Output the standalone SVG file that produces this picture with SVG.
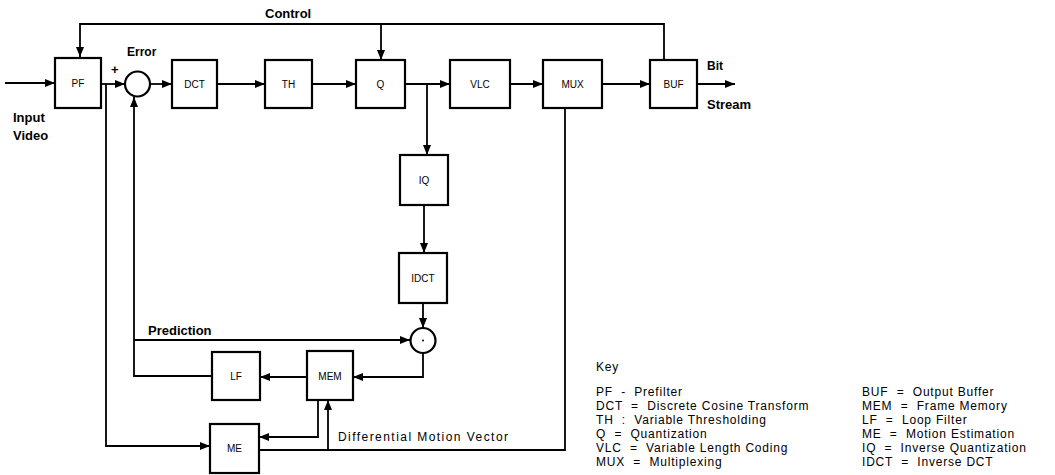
<svg xmlns="http://www.w3.org/2000/svg" width="1055" height="475" viewBox="0 0 1055 475">
<defs>
<style>
.box{fill:#fff;stroke:#000;stroke-width:2.2}
.ln{fill:none;stroke:#000;stroke-width:1.8}
.lbl{font-family:"Liberation Sans",Arial,sans-serif;font-size:10px;fill:#000;text-anchor:middle}
.t{font-family:"Liberation Sans",Arial,sans-serif;font-size:13px;font-weight:bold;fill:#000}
.k{font-family:"Liberation Sans",Arial,sans-serif;font-size:12px;letter-spacing:0.8px;fill:#000;white-space:pre}
</style>
<marker id="a" viewBox="0 0 10 8" refX="10" refY="4" markerWidth="10" markerHeight="8" markerUnits="userSpaceOnUse" orient="auto">
<path d="M0,0 L10,4 L0,8 z" fill="#000"/>
</marker>
</defs>
<rect width="1055" height="475" fill="#fff"/>
<g id="connectors">
<path class="ln" d="M5 83 H55" marker-end="url(#a)"/>
<path class="ln" d="M101 84 H125" marker-end="url(#a)"/>
<path class="ln" d="M150 84 H172" marker-end="url(#a)"/>
<path class="ln" d="M217 84 H265" marker-end="url(#a)"/>
<path class="ln" d="M312 84 H356" marker-end="url(#a)"/>
<path class="ln" d="M405 84 H450" marker-end="url(#a)"/>
<path class="ln" d="M510 84 H543" marker-end="url(#a)"/>
<path class="ln" d="M602 84 H650" marker-end="url(#a)"/>
<path class="ln" d="M697 84 H735" marker-end="url(#a)"/>
<path class="ln" d="M664 60 V24 H80 V57" marker-end="url(#a)"/>
<path class="ln" d="M381 24 V60" marker-end="url(#a)"/>
<path class="ln" d="M427 84 V155" marker-end="url(#a)"/>
<path class="ln" d="M424 205 V253" marker-end="url(#a)"/>
<path class="ln" d="M423 303 V328" marker-end="url(#a)"/>
<path class="ln" d="M423 353 V377 H353" marker-end="url(#a)"/>
<path class="ln" d="M307 377 H260" marker-end="url(#a)"/>
<path class="ln" d="M212 376 H134 V97" marker-end="url(#a)"/>
<path class="ln" d="M134 340 H410" marker-end="url(#a)"/>
<path class="ln" d="M106 84 V446 H210" marker-end="url(#a)"/>
<path class="ln" d="M318 400 V437 H259" marker-end="url(#a)"/>
<path class="ln" d="M259 450 H565 V108"/>
<path class="ln" d="M328 450 V400" marker-end="url(#a)"/>
</g>
<g id="PF"><rect class="box" x="55" y="58" width="46" height="50"/><text class="lbl" x="78" y="87">PF</text></g>
<g id="SUM"><circle class="box" cx="137.5" cy="84" r="12.5"/></g>
<g id="DCT"><rect class="box" x="172" y="60" width="45" height="48"/><text class="lbl" x="194.5" y="88">DCT</text></g>
<g id="TH"><rect class="box" x="265" y="60" width="47" height="48"/><text class="lbl" x="288.5" y="88">TH</text></g>
<g id="Q"><rect class="box" x="356" y="60" width="49" height="48"/><text class="lbl" x="380.5" y="88">Q</text></g>
<g id="VLC"><rect class="box" x="450" y="60" width="60" height="48"/><text class="lbl" x="480" y="88">VLC</text></g>
<g id="MUX"><rect class="box" x="543" y="60" width="59" height="48"/><text class="lbl" x="572.5" y="88">MUX</text></g>
<g id="BUF"><rect class="box" x="650" y="60" width="47" height="48"/><text class="lbl" x="673.5" y="88">BUF</text></g>
<g id="IQ"><rect class="box" x="400" y="155" width="48" height="50"/><text class="lbl" x="424" y="184">IQ</text></g>
<g id="IDCT"><rect class="box" x="399" y="253" width="48" height="50"/><text class="lbl" x="423" y="282">IDCT</text></g>
<g id="ADD"><circle class="box" cx="423" cy="340.5" r="12.5"/><circle cx="423" cy="340.5" r="1" fill="#000"/></g>
<g id="MEM"><rect class="box" x="307" y="351" width="46" height="49"/><text class="lbl" x="330" y="380">MEM</text></g>
<g id="LF"><rect class="box" x="212" y="352" width="48" height="48"/><text class="lbl" x="236" y="380">LF</text></g>
<g id="ME"><rect class="box" x="210" y="424" width="49" height="49"/><text class="lbl" x="234.5" y="452">ME</text></g>
<g id="labels">
<text class="t" x="265" y="18">Control</text>
<text class="t" x="127" y="56" style="font-size:12px">Error</text>
<text class="t" x="111" y="74">+</text>
<text class="t" x="13" y="122">Input</text>
<text class="t" x="13" y="140">Video</text>
<text class="t" x="707" y="70" style="font-size:12px">Bit</text>
<text class="t" x="707" y="109">Stream</text>
<text class="t" x="148" y="335">Prediction</text>
<text class="k" x="338" y="441" textLength="170" lengthAdjust="spacing" style="letter-spacing:0">Differential Motion Vector</text>
</g>
<g id="key">
<text class="k" x="596" y="371">Key</text>
<text class="k" x="596" y="396">PF  -  Prefilter</text>
<text class="k" x="596" y="410">DCT  =  Discrete Cosine Transform</text>
<text class="k" x="596" y="424">TH  :  Variable Thresholding</text>
<text class="k" x="596" y="438">Q  =  Quantization</text>
<text class="k" x="596" y="452">VLC  =  Variable Length Coding</text>
<text class="k" x="596" y="466">MUX  =  Multiplexing</text>
<text class="k" x="862" y="396">BUF  =  Output Buffer</text>
<text class="k" x="862" y="410">MEM  =  Frame Memory</text>
<text class="k" x="862" y="424">LF  =  Loop Filter</text>
<text class="k" x="862" y="438">ME  =  Motion Estimation</text>
<text class="k" x="862" y="452">IQ  =  Inverse Quantization</text>
<text class="k" x="862" y="466">IDCT  =  Inverse DCT</text>
</g>
</svg>
